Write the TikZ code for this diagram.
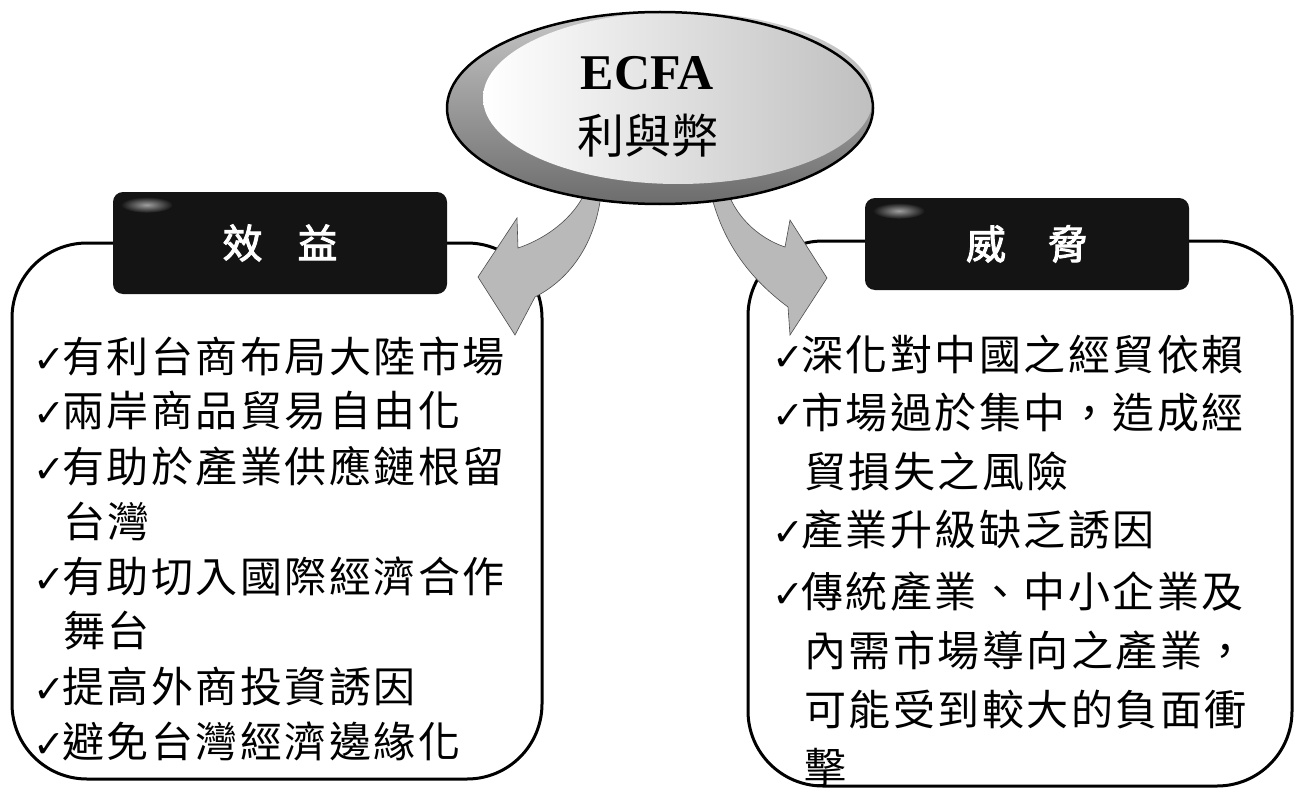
\documentclass[tikz,border=0pt]{standalone}
\usepackage{fontspec}
\setmainfont{Liberation Serif}
\newfontfamily\cjk{Noto Sans CJK TC}
\newfontfamily\cjkbody[LetterSpace=6]{Noto Sans CJK TC}
\newfontfamily\cjkbold[FakeBold=2.5]{Noto Sans CJK TC}
\newfontfamily\symfont{DejaVu Sans}
\newcommand\chk{\makebox[29pt][l]{\symfont\fontsize{38}{38}\selectfont ✓}}
\usetikzlibrary{shapes.geometric}
\tikzset{
  bigbox/.style={draw=black, line width=3pt, fill=white, rounded corners=75pt},
  lblbox/.style={draw=none, fill=black!92, rounded corners=10pt, inner sep=0pt,
    text=white, font=\cjkbold\fontsize{40}{40}\selectfont},
  gloss/.style={inner color=gray!75, outer color=black!92},
  txt/.style={inner sep=0pt, anchor=west, font=\cjkbody\fontsize{42}{42}\selectfont},
  blockarrow/.style={fill=gray!55, draw=gray!60!black, line width=0.6pt},
}
\begin{document}
\begin{tikzpicture}[x=1pt,y=-1pt]
\useasboundingbox (0,0) rectangle (1295,789);
\fill[white] (0,0) rectangle (1295,789);

% big boxes
\draw[bigbox] (12,243) rectangle (542,779);
\draw[bigbox] (748,241) rectangle (1292,786);

% label boxes
\node[lblbox, minimum width=334pt, minimum height=102pt] (lb) at (280,243) {};
\node[lblbox, minimum width=324pt, minimum height=92pt] (rb) at (1027,244) {};
\shade[gloss] ([shift={(34,13)}]lb.north west) ellipse [x radius=26, y radius=8];
\shade[gloss] ([shift={(34,13)}]rb.north west) ellipse [x radius=26, y radius=8];
\node[text=white, font=\cjkbold\fontsize{40}{40}\selectfont] (lbt) at (lb.center) {效\hspace{35pt}益};
\node[text=white, font=\cjkbold\fontsize{40}{40}\selectfont] (rbt) at (rb.center) {威\hspace{42pt}脅};

% curved block arrows
\draw[blockarrow] (588,185) .. controls (578,215) and (548,238) .. (518,248)
  -- (517,218) -- (478,277) -- (515,335) -- (535,297)
  .. controls (572,278) and (598,240) .. (602,185) -- cycle;
\draw[blockarrow] (708,180) .. controls (718,235) and (745,275) .. (788,307)
  -- (790,335) -- (827,278) -- (790,220) -- (785,247)
  .. controls (758,238) and (732,215) .. (724,180) -- cycle;

% central ellipse
\shade[top color=gray!45, bottom color=gray!85!black]
  (660,108) ellipse [x radius=213, y radius=96];
\shade[left color=white, right color=gray!50]
  (678,98) ellipse [x radius=195, y radius=86];
\draw[black, line width=2.5pt] (660,108) ellipse [x radius=213, y radius=96];

\node[inner sep=0pt, font=\bfseries\fontsize{50}{50}\selectfont] (ecfa) at (647,73) {ECFA};
\node[inner sep=0pt, font=\cjk\fontsize{47}{47}\selectfont] (lyb) at (648,136) {利與弊};

% left list
\node[txt] (l1) at (33,356) {\chk 有利台商布局大陸市場};
\node[txt] (l2) at (33,411) {\chk 兩岸商品貿易自由化};
\node[txt] (l3) at (33,466) {\chk 有助於產業供應鏈根留};
\node[txt] (l4) at (63,521) {台灣};
\node[txt] (l5) at (33,576) {\chk 有助切入國際經濟合作};
\node[txt] (l6) at (63,631) {舞台};
\node[txt] (l7) at (33,686) {\chk 提高外商投資誘因};
\node[txt] (l8) at (33,741) {\chk 避免台灣經濟邊緣化};

% right list
\node[txt] (r1) at (772,354) {\chk 深化對中國之經貿依賴};
\node[txt] (r2) at (772,413) {\chk 市場過於集中，造成經};
\node[txt] (r3) at (804,471) {貿損失之風險};
\node[txt] (r4) at (772,530) {\chk 產業升級缺乏誘因};
\node[txt] (r5) at (772,592) {\chk 傳統產業、中小企業及};
\node[txt] (r6) at (804,651) {內需市場導向之產業，};
\node[txt] (r7) at (804,710) {可能受到較大的負面衝};
\node[txt] (r8) at (804,768) {擊};
\end{tikzpicture}
\end{document}
